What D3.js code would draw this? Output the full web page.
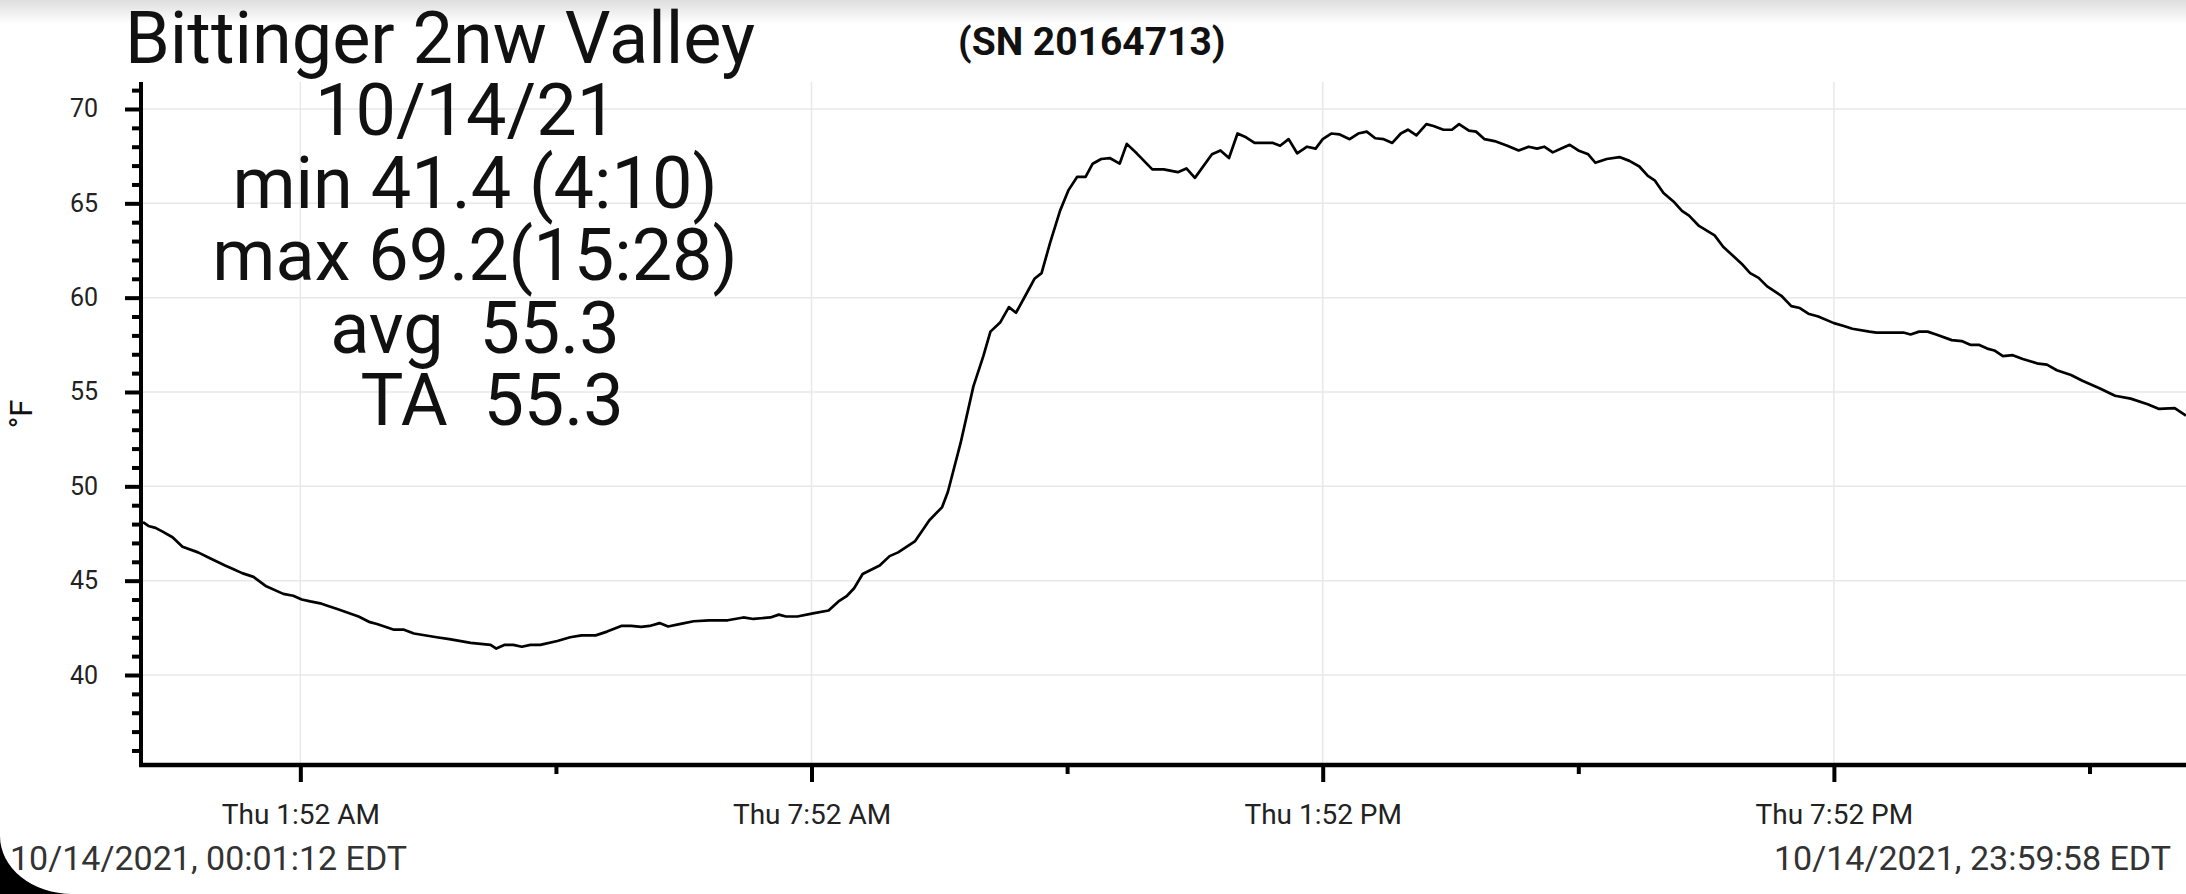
<!DOCTYPE html>
<html lang="en">

<head>
    <meta charset="UTF-8">
    <title>Bittinger 2nw Valley</title>
    <script src="https://d3js.org/d3.v7.min.js"></script>
    <style>
        body {
            margin: 0;
            background: #fff;
            font-family: Roboto, "Noto Sans", sans-serif;
        }

        .tick text {
            font-family: Roboto, sans-serif;
        }
    </style>
</head>

<body>
    <div id="chart"></div>
    <script>
        // readings of the logger (time of day, °F)
        const times = ["00:01:12", "00:05", "00:10", "00:15", "00:22", "00:29", "00:40", "00:48", "00:59", "01:05",
            "01:11", "01:19", "01:28", "01:40", "01:47", "01:53", "01:59", "02:06", "02:10", "02:18",
            "02:33", "02:41", "02:46", "02:58", "03:05", "03:12", "03:28", "03:37", "03:52", "04:06",
            "04:10", "04:16", "04:22", "04:28", "04:34", "04:41", "04:53", "05:02", "05:10", "05:20",
            "05:28", "05:38", "05:45", "05:52", "05:58", "06:05", "06:11", "06:19", "06:29", "06:40",
            "06:53", "07:04", "07:11", "07:23", "07:29", "07:34", "07:42", "07:53", "08:04", "08:11",
            "08:17", "08:22", "08:28", "08:40", "08:47", "08:53", "09:05", "09:15", "09:24", "09:28",
            "09:37", "09:46", "09:53", "09:58", "10:05", "10:11", "10:16", "10:24", "10:29", "10:34",
            "10:40", "10:47", "10:53", "10:59", "11:05", "11:10", "11:16", "11:22", "11:29", "11:34",
            "11:41", "11:52", "12:00", "12:10", "12:16", "12:22", "12:34", "12:40", "12:46", "12:52",
            "12:58", "13:04", "13:17", "13:22", "13:28", "13:34", "13:41", "13:47", "13:52", "13:58",
            "14:04", "14:11", "14:17", "14:23", "14:29", "14:35", "14:41", "14:47", "14:52", "14:58",
            "15:05", "15:10", "15:17", "15:23", "15:28", "15:35", "15:40", "15:46", "15:53", "16:02",
            "16:10", "16:17", "16:23", "16:28", "16:34", "16:40", "16:46", "16:52", "16:59", "17:04",
            "17:12", "17:21", "17:28", "17:35", "17:41", "17:46", "17:52", "17:59", "18:05", "18:10",
            "18:17", "18:28", "18:34", "18:47", "18:53", "18:59", "19:05", "19:15", "19:22", "19:28",
            "19:34", "19:41", "19:52", "19:59", "20:05", "20:17", "20:22", "20:41", "20:46", "20:52",
            "20:58", "21:04", "21:15", "21:22", "21:28", "21:34", "21:40", "21:45", "21:51", "21:58",
            "22:05", "22:16", "22:22", "22:29", "22:39", "22:47", "22:59", "23:10", "23:21", "23:33",
            "23:41", "23:52", "23:59:58"];
        const temps = [48.1, 47.9, 47.8, 47.6, 47.3, 46.8, 46.5, 46.2, 45.8, 45.6,
            45.4, 45.2, 44.7, 44.3, 44.2, 44.0, 43.9, 43.8, 43.7, 43.5,
            43.1, 42.8, 42.7, 42.4, 42.4, 42.2, 42.0, 41.9, 41.7, 41.6,
            41.4, 41.6, 41.6, 41.5, 41.6, 41.6, 41.8, 42.0, 42.1, 42.1,
            42.3, 42.6, 42.6, 42.55, 42.6, 42.75, 42.57, 42.7, 42.85, 42.9,
            42.9, 43.05, 42.97, 43.05, 43.2, 43.1, 43.1, 43.27, 43.42, 43.9,
            44.2, 44.6, 45.35, 45.8, 46.3, 46.5, 47.1, 48.2, 48.9, 49.7,
            52.3, 55.3, 56.9, 58.2, 58.7, 59.5, 59.2, 60.3, 61.0, 61.3,
            62.9, 64.6, 65.7, 66.4, 66.4, 67.1, 67.35, 67.4, 67.1, 68.15,
            67.65, 66.8, 66.8, 66.65, 66.85, 66.35, 67.6, 67.8, 67.4, 68.7,
            68.5, 68.2, 68.2, 68.05, 68.4, 67.65, 68.0, 67.9, 68.4, 68.7,
            68.65, 68.4, 68.7, 68.8, 68.45, 68.4, 68.2, 68.7, 68.9, 68.6,
            69.2, 69.1, 68.9, 68.9, 69.2, 68.85, 68.8, 68.4, 68.3, 68.05,
            67.8, 68.0, 67.9, 68.0, 67.7, 67.9, 68.1, 67.8, 67.6, 67.15,
            67.35, 67.45, 67.25, 66.95, 66.45, 66.2, 65.55, 65.1, 64.6, 64.35,
            63.8, 63.3, 62.7, 61.8, 61.3, 61.05, 60.6, 60.1, 59.55, 59.45,
            59.15, 59.0, 58.65, 58.5, 58.35, 58.2, 58.15, 58.15, 58.05, 58.2,
            58.2, 58.05, 57.75, 57.7, 57.5, 57.5, 57.3, 57.2, 56.9, 56.95,
            56.75, 56.5, 56.45, 56.15, 55.9, 55.6, 55.2, 54.8, 54.65, 54.35,
            54.1, 54.15, 53.75];

        const majorTimes = ["01:52", "07:52", "13:52", "19:52"];
        const minorTimes = ["04:52", "10:52", "16:52", "22:52"];
        const yMajor = [40, 45, 50, 55, 60, 65, 70];
        const yMinor = d3.range(36, 72).filter(v => v % 5 !== 0);
        const statLines = ["10/14/21 ", "min 41.4 (4:10)", "max 69.2(15:28)", "avg  55.3", "  TA  55.3"];

        const width = 2186;
        const height = 894;
        const plotLeft = 141, plotTop = 82, plotRight = 2186, plotBottom = 765;

        const parseTime = s => (s.length > 5 ? d3.timeParse("%Y-%m-%d %H:%M:%S") : d3.timeParse("%Y-%m-%d %H:%M"))("2021-10-14 " + s);
        const data = times.map((t, i) => ({ t: parseTime(t), v: temps[i] }));

        const x = d3.scaleTime()
            .domain([parseTime("00:01:12"), parseTime("23:59:58")])
            .range([143, 2186]);

        const y = d3.scaleLinear()
            .domain([35.23, 71.43])
            .range([plotBottom, plotTop]);

        const svg = d3.select("#chart")
            .append("svg")
            .attr("width", width)
            .attr("height", height)
            .style("display", "block");

        // faint shadow of the status bar at the top
        const grad = svg.append("defs").append("linearGradient")
            .attr("id", "topShade").attr("x1", 0).attr("x2", 0).attr("y1", 0).attr("y2", 1);
        grad.append("stop").attr("offset", "0%").attr("stop-color", "#dedede");
        grad.append("stop").attr("offset", "100%").attr("stop-color", "#ffffff");
        svg.append("rect").attr("width", width).attr("height", 24).attr("fill", "url(#topShade)");

        // grid
        svg.append("g").selectAll("line")
            .data(yMajor)
            .enter().append("line")
            .attr("x1", plotLeft).attr("x2", plotRight)
            .attr("y1", d => y(d)).attr("y2", d => y(d))
            .attr("stroke", "#e8e8e8").attr("stroke-width", 1.5);

        svg.append("g").selectAll("line")
            .data(majorTimes)
            .enter().append("line")
            .attr("x1", d => x(parseTime(d))).attr("x2", d => x(parseTime(d)))
            .attr("y1", plotTop).attr("y2", plotBottom)
            .attr("stroke", "#e8e8e8").attr("stroke-width", 1.5);

        // temperature line
        const line = d3.line()
            .x(d => x(d.t))
            .y(d => y(d.v));

        svg.append("path")
            .datum(data)
            .attr("d", line)
            .attr("fill", "none")
            .attr("stroke", "#000")
            .attr("stroke-width", 2.7)
            .attr("stroke-linejoin", "round");

        // x axis
        const xMajorAxis = svg.append("g")
            .attr("transform", `translate(0, ${plotBottom})`)
            .call(d3.axisBottom(x)
                .tickValues(majorTimes.map(parseTime))
                .tickSize(17)
                .tickPadding(22)
                .tickFormat(d3.timeFormat("%a %-I:%M %p")));
        xMajorAxis.select(".domain").remove();
        xMajorAxis.selectAll("line").attr("stroke", "#000").attr("stroke-width", 4);
        xMajorAxis.selectAll("text").attr("font-size", 28).attr("fill", "#222");

        const xMinorAxis = svg.append("g")
            .attr("transform", `translate(0, ${plotBottom})`)
            .call(d3.axisBottom(x)
                .tickValues(minorTimes.map(parseTime))
                .tickSize(9)
                .tickFormat(""));
        xMinorAxis.select(".domain").remove();
        xMinorAxis.selectAll("line").attr("stroke", "#000").attr("stroke-width", 4);

        svg.append("line")
            .attr("x1", plotLeft - 2).attr("x2", plotRight)
            .attr("y1", plotBottom).attr("y2", plotBottom)
            .attr("stroke", "#000").attr("stroke-width", 4.6);

        // y axis
        const yMajorAxis = svg.append("g")
            .attr("transform", `translate(${plotLeft}, 0)`)
            .call(d3.axisLeft(y)
                .tickValues(yMajor)
                .tickSize(16)
                .tickPadding(27));
        yMajorAxis.select(".domain").remove();
        yMajorAxis.selectAll("line").attr("stroke", "#000").attr("stroke-width", 4);
        yMajorAxis.selectAll("text").attr("font-size", 25).attr("fill", "#222");

        const yMinorAxis = svg.append("g")
            .attr("transform", `translate(${plotLeft}, 0)`)
            .call(d3.axisLeft(y)
                .tickValues(yMinor)
                .tickSize(9)
                .tickFormat(""));
        yMinorAxis.select(".domain").remove();
        yMinorAxis.selectAll("line").attr("stroke", "#000").attr("stroke-width", 4);

        svg.append("line")
            .attr("x1", plotLeft).attr("x2", plotLeft)
            .attr("y1", plotTop).attr("y2", plotBottom + 2)
            .attr("stroke", "#000").attr("stroke-width", 4);

        svg.append("text")
            .attr("transform", "translate(32, 414) rotate(-90)")
            .attr("text-anchor", "middle")
            .attr("font-size", 31)
            .attr("fill", "#111")
            .text("°F");

        // titles
        svg.append("text")
            .attr("x", 125).attr("y", 63)
            .attr("font-size", 72)
            .attr("fill", "#111")
            .text("Bittinger 2nw Valley");

        svg.append("text")
            .attr("x", 958).attr("y", 55)
            .attr("font-size", 39)
            .attr("font-weight", "bold")
            .attr("fill", "#111")
            .text("(SN 20164713)");

        svg.append("g").selectAll("text")
            .data(statLines)
            .enter().append("text")
            .attr("x", 475)
            .attr("y", (d, i) => 135 + i * 72.5)
            .attr("text-anchor", "middle")
            .attr("font-size", 72)
            .attr("fill", "#111")
            .style("white-space", "pre")
            .text(d => d);

        // first and last reading stamps
        svg.append("text")
            .attr("x", 10).attr("y", 870)
            .attr("font-size", 34)
            .attr("fill", "#333")
            .text("10/14/2021, 00:01:12 EDT");

        svg.append("text")
            .attr("x", 2171).attr("y", 870)
            .attr("text-anchor", "end")
            .attr("font-size", 34)
            .attr("fill", "#333")
            .text("10/14/2021, 23:59:58 EDT");

        // rounded screen corner
        svg.append("path")
            .attr("d", "M0,836 A72,58 0 0 0 72,894 L0,894 Z")
            .attr("fill", "#000");
    </script>
</body>

</html>
